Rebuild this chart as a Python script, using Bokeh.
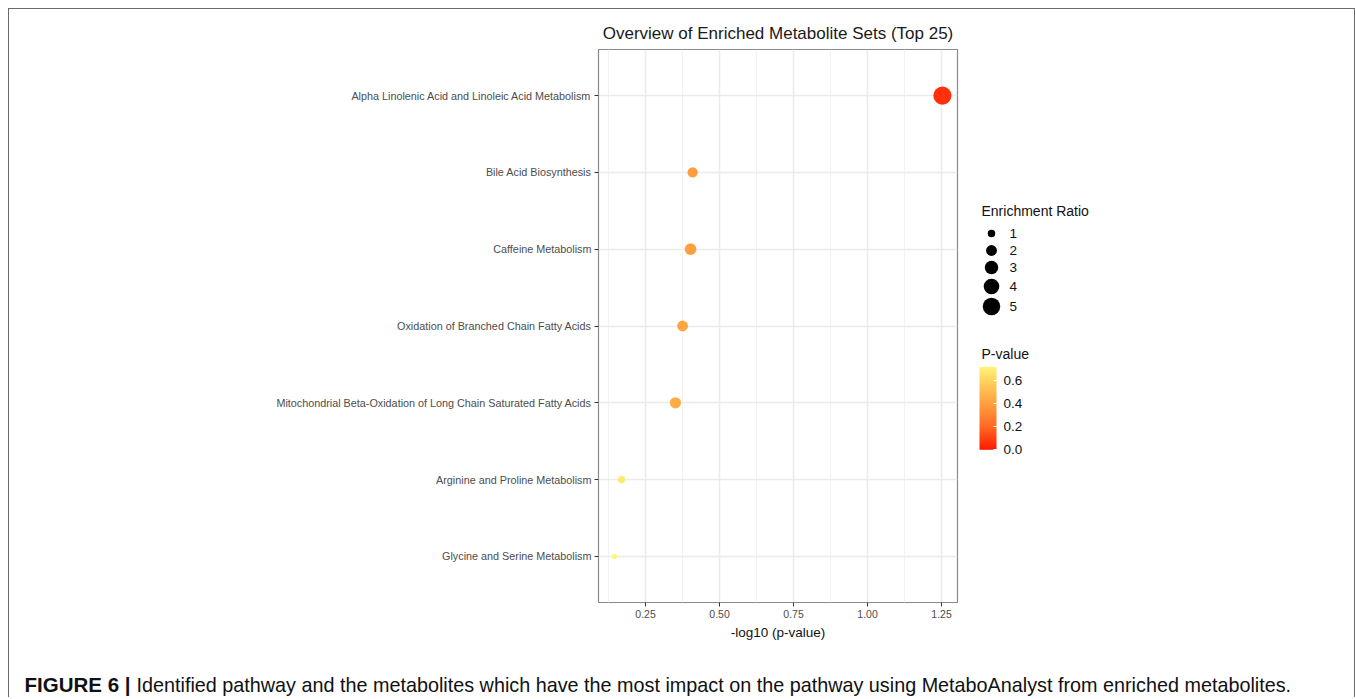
import numpy as np
from bokeh.plotting import figure
from bokeh.models import (ColumnDataSource, FactorRange, Range1d, FixedTicker,
                          PrintfTickFormatter, LinearColorMapper, ColorBar)
from bokeh.layouts import column, row
from bokeh.embed import file_html
from bokeh.resources import INLINE
from bokeh.core.properties import value

# ---------------- data ----------------
pathways = [
    "Alpha Linolenic Acid and Linoleic Acid Metabolism",
    "Bile Acid Biosynthesis",
    "Caffeine Metabolism",
    "Oxidation of Branched Chain Fatty Acids",
    "Mitochondrial Beta-Oxidation of Long Chain Saturated Fatty Acids",
    "Arginine and Proline Metabolism",
    "Glycine and Serine Metabolism",
]
neg_log10_p = [1.253, 0.409, 0.402, 0.375, 0.351, 0.169, 0.145]
enrichment_ratio = [5.4, 1.8, 2.3, 2.0, 2.15, 0.95, 0.5]
p_values = [0.056, 0.390, 0.396, 0.422, 0.446, 0.678, 0.716]
x_ticks = [0.25, 0.50, 0.75, 1.00, 1.25]
x_minor_ticks = [0.125, 0.375, 0.625, 0.875, 1.125]
size_legend_values = [1, 2, 3, 4, 5]
pvalue_ticks = [0.0, 0.2, 0.4, 0.6]

title_text = "Overview of Enriched Metabolite Sets (Top 25)"
x_label = "-log10 (p-value)"
caption_bold = "FIGURE 6 |"
caption_rest = ("Identified pathway and the metabolites which have the most impact "
                "on the pathway using MetaboAnalyst from enriched metabolites.")

FONT = "Liberation Sans"
P_LOW, P_HIGH = 0.0, 0.716

MAIN_W, LEG_W, PANEL_H, CAP_H = 956, 389, 641, 47
B_TOP, B_BOTTOM = 40, 48


def dot_size(r):
    return -0.59 + 8.09 * np.sqrt(np.asarray(r, dtype=float))


# red -> light yellow gradient
stops = [(0.0, (255, 26, 0)), (0.2, (255, 106, 37)), (0.4, (255, 160, 64)),
         (0.6, (255, 212, 94)), (0.716, (255, 244, 122))]
palette = []
for t in np.linspace(P_LOW, P_HIGH, 256):
    for (a, ca), (b, cb) in zip(stops[:-1], stops[1:]):
        if a <= t <= b + 1e-9:
            f = (t - a) / (b - a)
            c = [int(round(ca[k] + f * (cb[k] - ca[k]))) for k in range(3)]
            palette.append("#%02x%02x%02x" % tuple(c))
            break
mapper = LinearColorMapper(palette=palette, low=P_LOW, high=P_HIGH)

# ---------------- main panel ----------------
src = ColumnDataSource(dict(
    name=pathways, x=neg_log10_p, ratio=enrichment_ratio, p=p_values,
    size=dot_size(enrichment_ratio),
))

main = figure(
    width=MAIN_W, height=PANEL_H,
    y_range=FactorRange(factors=pathways[::-1], range_padding=0.1,
                        range_padding_units="absolute"),
    x_range=Range1d(0.091, 1.304),
    output_backend="svg", toolbar_location=None,
    min_border_left=589, min_border_right=8, min_border_top=B_TOP,
    min_border_bottom=B_BOTTOM,
    title=title_text,
)
main.title.align = "center"
main.title.text_font = FONT
main.title.text_font_size = "17px"
main.title.text_font_style = "normal"
main.title.text_color = "#1a1a1a"
main.title.standoff = 13

main.outline_line_color = "#8a8a8a"
main.outline_line_width = 1.2
main.background_fill_color = "white"

main.xaxis.ticker = FixedTicker(ticks=x_ticks, minor_ticks=x_minor_ticks)
main.xaxis.formatter = PrintfTickFormatter(format="%.2f")
main.xaxis.axis_label = x_label
main.xaxis.axis_label_text_font = FONT
main.xaxis.axis_label_text_font_size = "13.5px"
main.xaxis.axis_label_text_font_style = "normal"
main.xaxis.axis_label_text_color = "#111111"
main.xaxis.axis_label_standoff = 4

for ax in (main.xaxis, main.yaxis):
    ax.axis_line_color = None
    ax.major_tick_line_color = "#333333"
    ax.major_tick_out = 4
    ax.major_tick_in = 0
    ax.minor_tick_line_color = None
    ax.major_label_text_font = FONT
    ax.major_label_text_color = "#4d4d4d"
main.xaxis.major_label_text_font_size = "10.5px"
main.xaxis.major_label_standoff = 3
main.yaxis.major_label_text_font_size = "10.8px"
main.yaxis.major_label_standoff = 3

main.xgrid.grid_line_color = "#ebebeb"
main.xgrid.grid_line_width = 1.5
main.xgrid.minor_grid_line_color = "#f2f2f2"
main.xgrid.minor_grid_line_width = 1
main.ygrid.grid_line_color = "#ebebeb"
main.ygrid.grid_line_width = 1.5

main.scatter("x", "name", size="size", source=src,
             fill_color={"field": "p", "transform": mapper}, line_color=None)

# ---------------- legend panel (coordinates = canvas pixels) ----------------
leg = figure(width=LEG_W, height=PANEL_H, x_range=Range1d(0, LEG_W),
             y_range=Range1d(PANEL_H - B_BOTTOM, B_TOP),
             x_axis_type=None, y_axis_type=None, output_backend="svg",
             toolbar_location=None, min_border_left=0, min_border_right=0,
             min_border_top=B_TOP, min_border_bottom=B_BOTTOM,
             outline_line_color=None)
leg.grid.visible = False

leg.text(x=[16], y=[201], text=["Enrichment Ratio"], text_font=value(FONT),
         text_font_size="14px", text_baseline="middle", text_color="#111111")
key_y = [224, 241, 258, 277, 297]
leg_src = ColumnDataSource(dict(
    x=[26] * len(size_legend_values), y=key_y,
    size=dot_size(size_legend_values),
    lab=[str(v) for v in size_legend_values], lx=[44] * len(size_legend_values),
))
leg.scatter("x", "y", size="size", source=leg_src, fill_color="black", line_color=None)
leg.text("lx", "y", text="lab", source=leg_src, text_font=value(FONT),
         text_font_size="13.5px", text_baseline="middle", text_color="#111111")

leg.text(x=[16], y=[344], text=["P-value"], text_font=value(FONT),
         text_font_size="14px", text_baseline="middle", text_color="#111111")

cb = ColorBar(color_mapper=mapper, ticker=FixedTicker(ticks=pvalue_ticks),
              formatter=PrintfTickFormatter(format="%.1f"),
              width=17, height=83, padding=0,
              location=(14, (PANEL_H - B_BOTTOM) - 440.3),
              major_tick_line_color="white", major_tick_in=3, major_tick_out=0,
              label_standoff=7, major_label_text_font=FONT,
              major_label_text_font_size="13.5px", major_label_text_color="#111111",
              bar_line_color=None, border_line_color=None,
              background_fill_alpha=0, title=None)
leg.add_layout(cb, "center")

# ---------------- caption ----------------
CAP_W = MAIN_W + LEG_W
cap = figure(width=CAP_W, height=CAP_H, x_range=Range1d(0, CAP_W), y_range=Range1d(CAP_H, 0),
             x_axis_type=None, y_axis_type=None, output_backend="svg",
             toolbar_location=None, min_border=0, outline_line_color=None)
cap.grid.visible = False
cap.text(x=[15], y=[34], text=[caption_bold], text_font=value(FONT),
         text_font_size="20.5px", text_font_style="bold", text_baseline="middle",
         text_color="#111111")
cap.text(x=[127], y=[34], text=[caption_rest], text_font=value(FONT),
         text_font_size="19.8px", text_baseline="middle", text_color="#111111")

layout = column(row(main, leg), cap,
                styles={"margin-left": "8px", "margin-top": "8px",
                        "border-left": "1px solid #6a6a6a",
                        "border-top": "1px solid #6a6a6a",
                        "border-right": "1px solid #6a6a6a"})

open("out.html", "w").write(file_html(layout, INLINE))
